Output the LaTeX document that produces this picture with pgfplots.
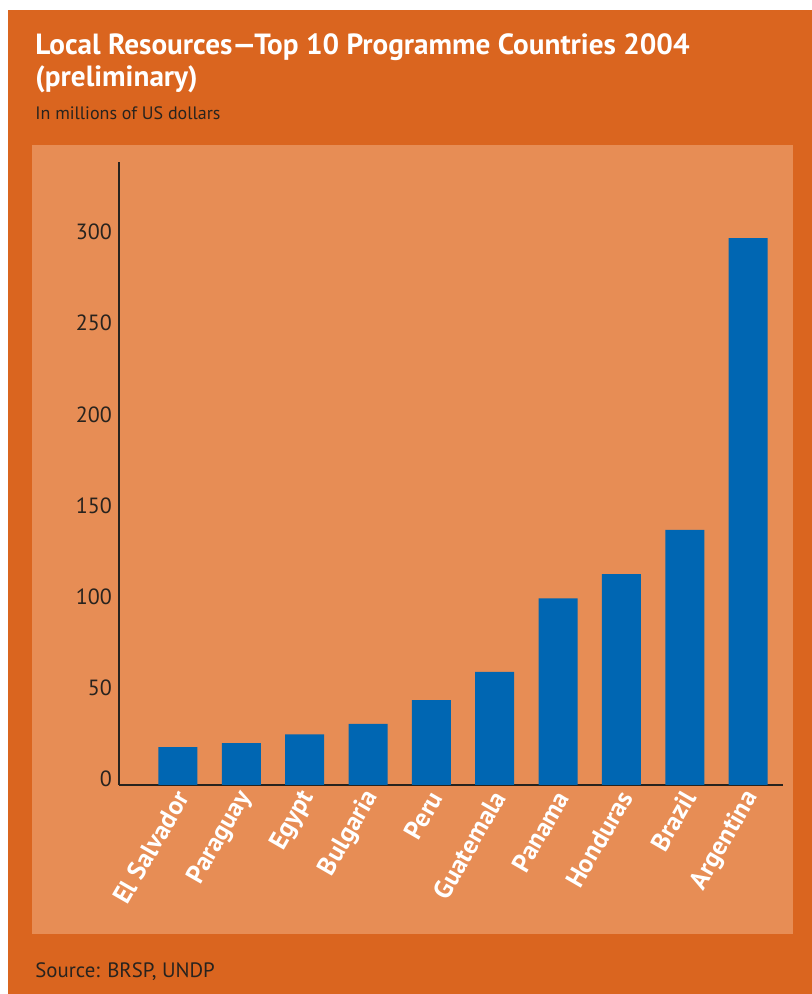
\documentclass[border=0pt]{standalone}
\usepackage{fontspec}
\setmainfont{PT Sans}
\usepackage{pgfplots}
\pgfplotsset{compat=1.18}
\definecolor{outerorange}{RGB}{218,101,31}
\definecolor{innerorange}{RGB}{231,141,85}
\definecolor{barblue}{RGB}{0,102,178}
\definecolor{darktext}{RGB}{40,35,30}
\begin{document}
\begin{tikzpicture}[x=0.5pt,y=0.5pt]
\fill[white] (0,0) rectangle (812,994);
\fill[outerorange] (8,0) rectangle (812,984);
\fill[innerorange] (32,60) rectangle (793,849);
\node[anchor=base west, text=white, font=\bfseries\fontsize{14.6}{16}\selectfont, inner sep=0] at (35,939) {Local Resources---Top 10 Programme Countries 2004};
\node[anchor=base west, text=white, font=\bfseries\fontsize{14.6}{16}\selectfont, inner sep=0] at (35,907) {(preliminary)};
\node[anchor=base west, text=darktext, font=\fontsize{9}{10}\selectfont, inner sep=0] at (35,874) {In millions of US dollars};
\node[anchor=base west, text=darktext, font=\fontsize{10.4}{12}\selectfont, inner sep=0] at (35,17) {Source: BRSP, UNDP};
\begin{axis}[
  at={(59.5pt,104.5pt)}, anchor=south west,
  scale only axis, width=332pt, height=311.5pt,
  xmin=-0.93, xmax=9.55, ymin=0, ymax=341.7,
  axis lines=left,
  axis line style={-, draw=darktext, line width=0.7pt},
  ybar, bar width=19.5pt,
  xtick={0,...,9},
  xticklabels={El Salvador,Paraguay,Egypt,Bulgaria,Peru,Guatemala,Panama,Honduras,Brazil,Argentina},
  xticklabel style={rotate=60, anchor=east, text=white, yshift=-4pt, xshift=1pt, font=\bfseries\fontsize{13}{15}\selectfont},
  major tick length=0,
  ytick={0,50,100,150,200,250,300},
  yticklabel style={text=darktext, font=\fontsize{11}{13}\selectfont, yshift=3pt},
  /pgf/number format/assume math mode=true,
  clip=false,
]
\addplot[fill=barblue, draw=none] coordinates {
(0,20.8) (1,23.0) (2,27.8) (3,33.5) (4,46.5) (5,62.0) (6,102.4) (7,115.7) (8,139.9) (9,300)
};
\end{axis}
\end{tikzpicture}
\end{document}
